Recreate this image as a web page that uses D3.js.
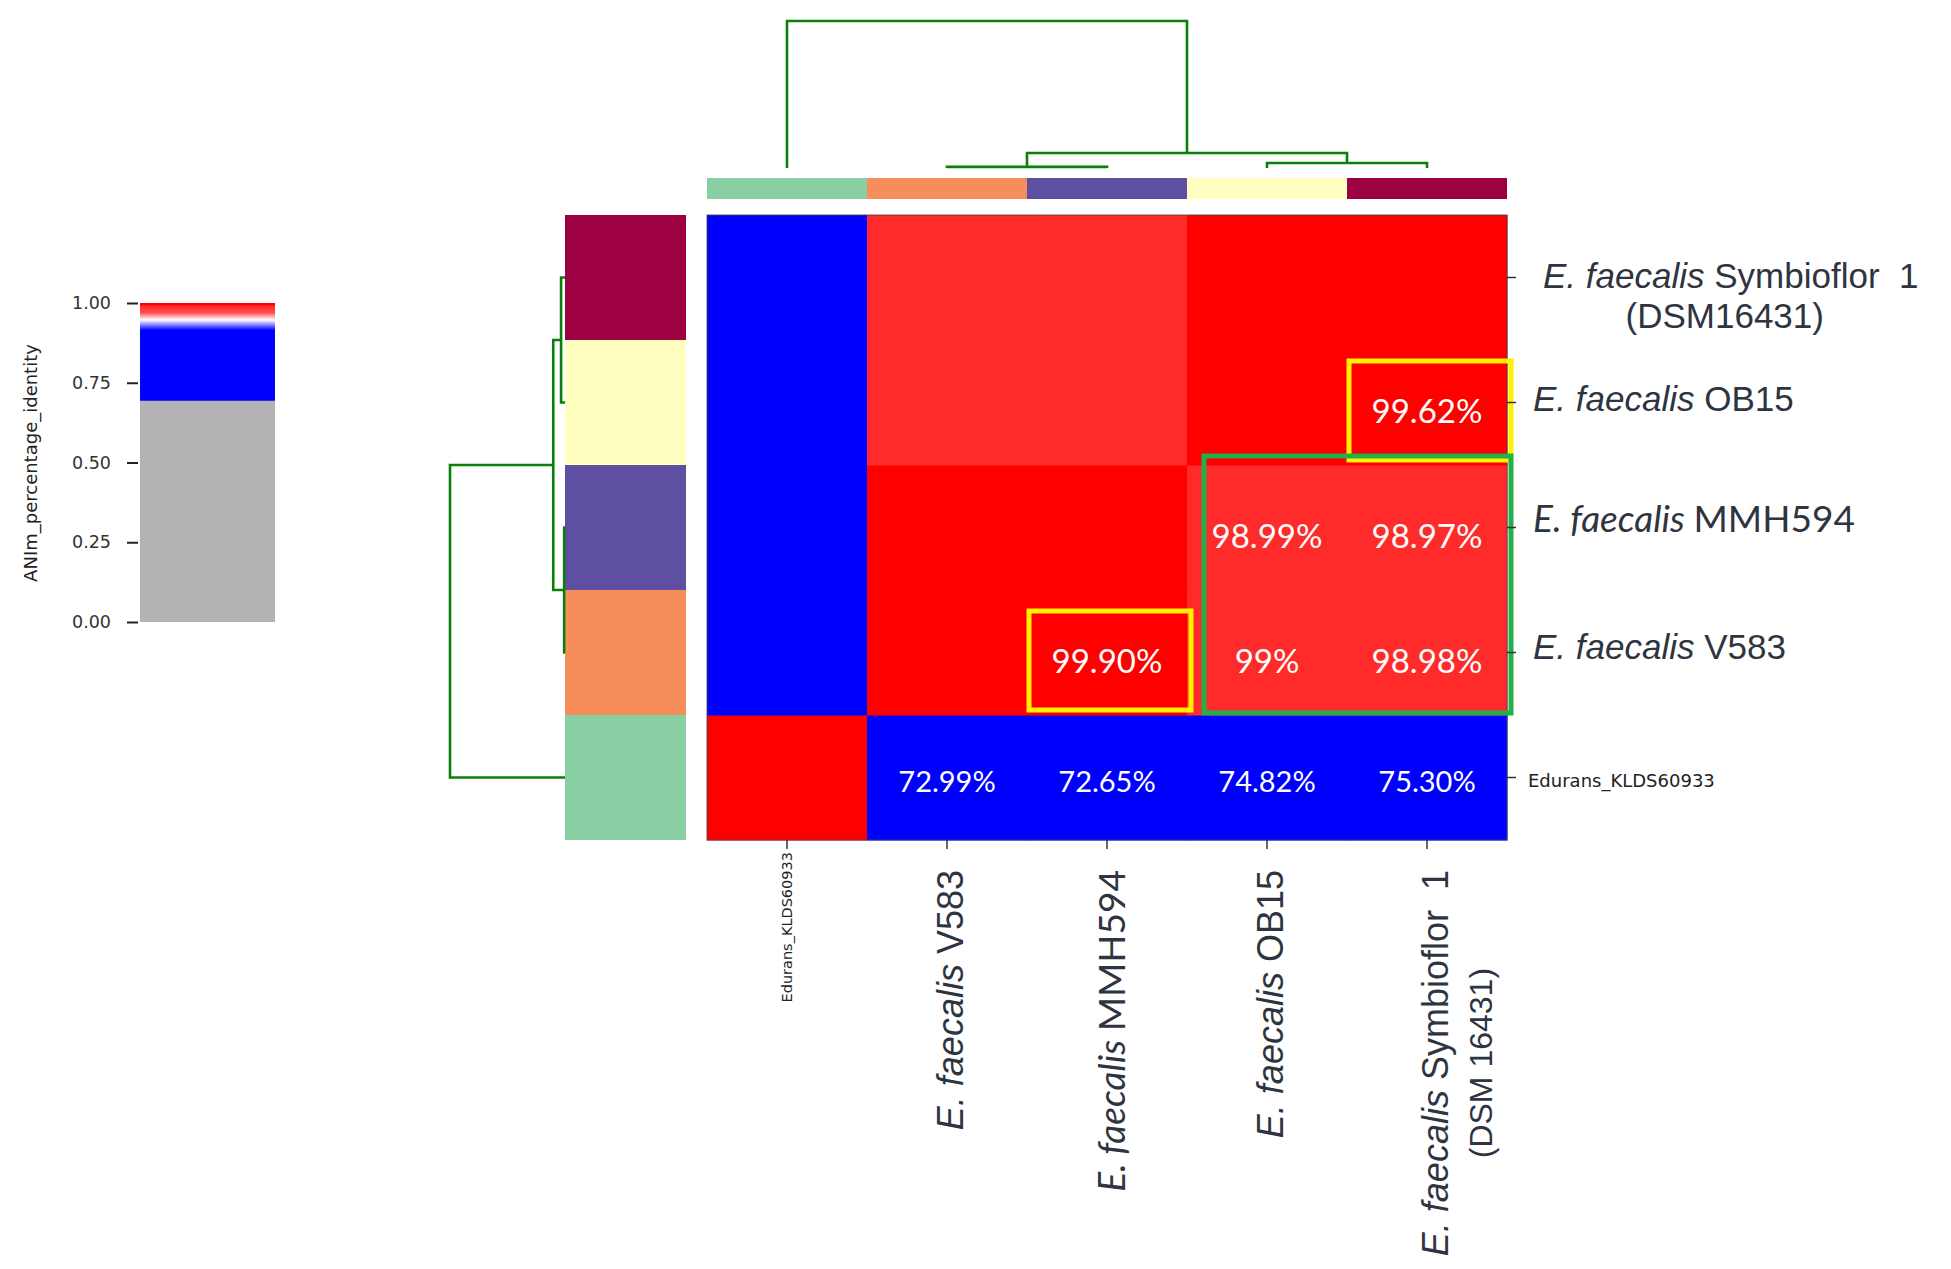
<!DOCTYPE html>
<html>
<head>
<meta charset="utf-8">
<script src="https://cdn.jsdelivr.net/npm/d3@7"></script>
<style>
  body { margin: 0; background: #fff; }
  svg { display: block; }
</style>
</head>
<body>
<svg id="chart" width="1951" height="1269"></svg>
<script>
(function() {
    'use strict';

// leaf order of the clustering (columns left->right, rows bottom->top)
var genomes = ["Edurans_KLDS60933", "V583", "MMH594", "OB15", "Symbioflor"];
var stripColours = ["#88cfa4", "#f68d5a", "#5e4fa2", "#ffffbf", "#9e0142"];

// ANIm percentage identity, same order as genomes
var identity = [
  [1.0000, 0.7299, 0.7265, 0.7482, 0.7530],
  [0.7299, 1.0000, 0.9990, 0.9900, 0.9898],
  [0.7265, 0.9990, 1.0000, 0.9899, 0.9897],
  [0.7482, 0.9900, 0.9899, 1.0000, 0.9962],
  [0.7530, 0.9898, 0.9897, 0.9962, 1.0000]
];

// scipy style linkage [left, right, height]; new clusters are numbered from 5
var linkage = [[1, 2, 0.002], [3, 4, 0.0092], [5, 6, 0.0276], [0, 7, 0.27]];

// printed values: [row genome, column genome, text]
var cellLabels = [
  ["OB15", "Symbioflor", "99.62%"],
  ["MMH594", "OB15", "98.99%"],
  ["MMH594", "Symbioflor", "98.97%"],
  ["V583", "MMH594", "99.90%"],
  ["V583", "OB15", "99%"],
  ["V583", "Symbioflor", "98.98%"],
  ["Edurans_KLDS60933", "V583", "72.99%"],
  ["Edurans_KLDS60933", "MMH594", "72.65%"],
  ["Edurans_KLDS60933", "OB15", "74.82%"],
  ["Edurans_KLDS60933", "Symbioflor", "75.30%"]
];

// highlighted cells
var yellowBoxes = [["OB15", "Symbioflor"], ["V583", "MMH594"]];
var greenRows = ["MMH594", "V583"];
var greenCols = ["OB15", "Symbioflor"];

// tick labels
var italicPart = ["", "E. faecalis", "E. faecalis", "E. faecalis", "E. faecalis"];
var namePart = ["Edurans_KLDS60933", "V583", "MMH594", "OB15", "Symbioflor  1"];
var rowSecondLine = ["", "", "", "", "(DSM16431)"];
var colSecondLine = ["", "", "", "", "(DSM 16431)"];
var legendTicks = [0, 0.25, 0.5, 0.75, 1];

var svg = d3.select("#chart");
var green = "#0a7f0a";
var labelFont = "'Liberation Sans', Arial, sans-serif";

// colour map: grey below 0.7, blue, white around 0.95, red towards 1
var belowColour = "#b3b3b3";
var ramp = d3.scaleLinear()
    .domain([0.695, 0.915, 0.947, 0.97, 0.99, 0.995])
    .range(["#0000ff", "#0000ff", "#ffffff", "#ff4d4d", "#ff2a2a", "#ff0000"])
    .clamp(true);
function aniColour(v) { return v < 0.695 ? belowColour : ramp(v); }

// heatmap scales
var x = d3.scaleBand().domain(genomes).range([707, 1507]);
var rowOrder = genomes.slice().reverse();
var y = d3.scaleBand().domain(rowOrder).range([215, 840]);
var bw = x.bandwidth(), bh = y.bandwidth();

var cells = [];
genomes.forEach(function(r, i) {
  genomes.forEach(function(c, j) { cells.push({row: r, col: c, v: identity[i][j]}); });
});

svg.append("g").selectAll("rect")
   .data(cells)
   .enter().append("rect")
   .attr("x", function(d) { return x(d.col); })
   .attr("y", function(d) { return y(d.row); })
   .attr("width", bw + 0.5)
   .attr("height", bh + 0.5)
   .attr("fill", function(d) { return aniColour(d.v); });

svg.append("rect")
   .attr("x", 707).attr("y", 215).attr("width", 800).attr("height", 625)
   .attr("fill", "none").attr("stroke", "#444").attr("stroke-opacity", 0.7)
   .attr("stroke-width", 1.2);

// colour strips
svg.append("g").selectAll("rect")
   .data(genomes)
   .enter().append("rect")
   .attr("x", function(d) { return x(d); })
   .attr("y", 178).attr("width", bw).attr("height", 21)
   .attr("fill", function(d, i) { return stripColours[i]; });

svg.append("g").selectAll("rect")
   .data(genomes)
   .enter().append("rect")
   .attr("x", 565).attr("width", 121)
   .attr("y", function(d) { return y(d); }).attr("height", bh)
   .attr("fill", function(d, i) { return stripColours[i]; });

// dendrograms
function buildNodes(pos) {
  var nodes = genomes.map(function(g) { return {pos: pos(g), h: 0}; });
  linkage.forEach(function(l) {
    var a = nodes[l[0]], b = nodes[l[1]];
    nodes.push({pos: (a.pos + b.pos) / 2, h: l[2], a: a, b: b});
  });
  return nodes.filter(function(n) { return n.a; });
}

var hTop = d3.scaleLinear().domain([0, 0.27]).range([168, 21]);
svg.append("g").selectAll("path")
   .data(buildNodes(function(g) { return x(g) + bw / 2; }))
   .enter().append("path")
   .attr("d", function(n) {
     return "M" + n.a.pos + "," + hTop(n.a.h) + "V" + hTop(n.h) +
            "H" + n.b.pos + "V" + hTop(n.b.h);
   })
   .attr("fill", "none").attr("stroke", green).attr("stroke-width", 2.6);

var hLeft = d3.scaleLinear().domain([0, 0.27]).range([565, 450]);
svg.append("g").selectAll("path")
   .data(buildNodes(function(g) { return y(g) + bh / 2; }))
   .enter().append("path")
   .attr("d", function(n) {
     return "M" + hLeft(n.a.h) + "," + n.a.pos + "H" + hLeft(n.h) +
            "V" + n.b.pos + "H" + hLeft(n.b.h);
   })
   .attr("fill", "none").attr("stroke", green).attr("stroke-width", 2.6);

// values in cells
svg.append("g").selectAll("text")
   .data(cellLabels)
   .enter().append("text")
   .attr("x", function(d) { return x(d[1]) + bw / 2; })
   .attr("y", function(d) { return y(d[0]) + bh / 2 + (d[0] === genomes[0] ? 3 : 7); })
   .attr("text-anchor", "middle")
   .attr("dominant-baseline", "central")
   .attr("fill", "#fff")
   .style("font-family", "Lato, 'Open Sans', sans-serif")
   .style("font-size", function(d) { return d[0] === genomes[0] ? "29px" : "33px"; })
   .text(function(d) { return d[2]; });

// highlight boxes
svg.append("g").selectAll("rect")
   .data(yellowBoxes)
   .enter().append("rect")
   .attr("x", function(d) { return x(d[1]) + 2; })
   .attr("y", function(d) { return y(d[0]) + 21; })
   .attr("width", bw + 2)
   .attr("height", bh - 26)
   .attr("fill", "none").attr("stroke", "#fff200").attr("stroke-width", 5);

svg.append("rect")
   .attr("x", x(greenCols[0]) + 17)
   .attr("y", y(greenRows[0]) - 9)
   .attr("width", bw * greenCols.length - 13)
   .attr("height", bh * greenRows.length + 7)
   .attr("fill", "none").attr("stroke", "#21b04b").attr("stroke-width", 5);

// row ticks and labels
var rowShift = [3, -7, -11, -5, -3];
var rowAxis = svg.append("g");
genomes.forEach(function(g, i) {
  var cy = y(g) + bh / 2;
  rowAxis.append("line")
     .attr("x1", 1507).attr("x2", 1516).attr("y1", cy).attr("y2", cy)
     .attr("stroke", "#333").attr("stroke-width", 1.5);
  if (i === 0) {
    rowAxis.append("text")
       .attr("x", 1528).attr("y", cy + rowShift[i])
       .attr("dominant-baseline", "central")
       .attr("fill", "#222")
       .style("font-family", "'DejaVu Sans', sans-serif").style("font-size", "18px")
       .text(namePart[i]);
    return;
  }
  var isCalibri = g === "MMH594";
  var t = rowAxis.append("text")
     .attr("x", rowSecondLine[i] ? 1543 : 1533)
     .attr("y", cy + rowShift[i])
     .attr("dominant-baseline", "central")
     .attr("fill", "#2e3440")
     .attr("xml:space", "preserve")
     .style("font-family", isCalibri ? "Lato, sans-serif" : labelFont)
     .style("font-size", isCalibri ? "37px" : "35px");
  t.append("tspan").style("font-style", "italic").text(italicPart[i] + " ");
  t.append("tspan").text(namePart[i]);
  if (rowSecondLine[i]) {
    var len = t.node().getComputedTextLength();
    rowAxis.append("text")
       .attr("x", 1543 + len / 2 - 6).attr("y", cy + 38)
       .attr("text-anchor", "middle")
       .attr("dominant-baseline", "central")
       .attr("fill", "#2e3440")
       .style("font-family", labelFont).style("font-size", "35px")
       .text(rowSecondLine[i]);
  }
});

// column ticks and labels
var colAxis = svg.append("g");
genomes.forEach(function(g, i) {
  var cx = x(g) + bw / 2;
  colAxis.append("line")
     .attr("x1", cx).attr("x2", cx).attr("y1", 840).attr("y2", 849)
     .attr("stroke", "#333").attr("stroke-width", 1.5);
  if (i === 0) {
    colAxis.append("text")
       .attr("transform", "translate(" + cx + ",852) rotate(-90)")
       .attr("text-anchor", "end")
       .attr("dominant-baseline", "central")
       .attr("fill", "#222")
       .style("font-family", "'DejaVu Sans', sans-serif").style("font-size", "14.5px")
       .text(namePart[i]);
    return;
  }
  var isCalibri = g === "MMH594";
  var grp = colAxis.append("g")
     .attr("transform", "translate(" + (cx + (colSecondLine[i] ? 8 : 3)) + ",870) rotate(-90)");
  var t = grp.append("text")
     .attr("text-anchor", "end")
     .attr("dominant-baseline", "central")
     .attr("fill", "#2e3440")
     .attr("xml:space", "preserve")
     .style("font-family", isCalibri ? "Lato, sans-serif" : labelFont)
     .style("font-size", isCalibri ? "37px" : "36px");
  t.append("tspan").style("font-style", "italic").text(italicPart[i] + " ");
  t.append("tspan").text(namePart[i]);
  if (colSecondLine[i]) {
    var len = t.node().getComputedTextLength();
    grp.append("text")
       .attr("x", -len / 2).attr("y", 46)
       .attr("text-anchor", "middle")
       .attr("dominant-baseline", "central")
       .attr("fill", "#2e3440")
       .style("font-family", labelFont).style("font-size", "32px")
       .text(colSecondLine[i]);
  }
});

// colour bar legend
var legendY = d3.scaleLinear().domain([0, 1]).range([622, 303]);
var grad = svg.append("defs").append("linearGradient")
   .attr("id", "ani-grad")
   .attr("x1", 0).attr("y1", 1).attr("x2", 0).attr("y2", 0);
grad.selectAll("stop")
   .data(d3.range(0, 1.0001, 0.0025))
   .enter().append("stop")
   .attr("offset", function(d) { return d; })
   .attr("stop-color", function(d) { return aniColour(d); });

svg.append("rect")
   .attr("x", 140).attr("y", legendY(1))
   .attr("width", 135).attr("height", legendY(0) - legendY(1))
   .attr("fill", "url(#ani-grad)");

var legendAxis = svg.append("g")
   .attr("transform", "translate(138,0)")
   .call(d3.axisLeft(legendY).tickValues(legendTicks)
           .tickFormat(d3.format(".2f")).tickSize(11).tickPadding(16));
legendAxis.select(".domain").remove();
legendAxis.selectAll("line").attr("stroke", "#222").attr("stroke-width", 2);
legendAxis.selectAll("text")
   .attr("fill", "#333")
   .style("font-family", "'DejaVu Sans', sans-serif").style("font-size", "17.5px");

svg.append("text")
   .attr("transform", "translate(30,463) rotate(-90)")
   .attr("text-anchor", "middle")
   .attr("dominant-baseline", "central")
   .attr("fill", "#222")
   .style("font-family", "'DejaVu Sans', sans-serif").style("font-size", "18px")
   .text("ANIm_percentage_identity");

})();
</script>
</body>
</html>
